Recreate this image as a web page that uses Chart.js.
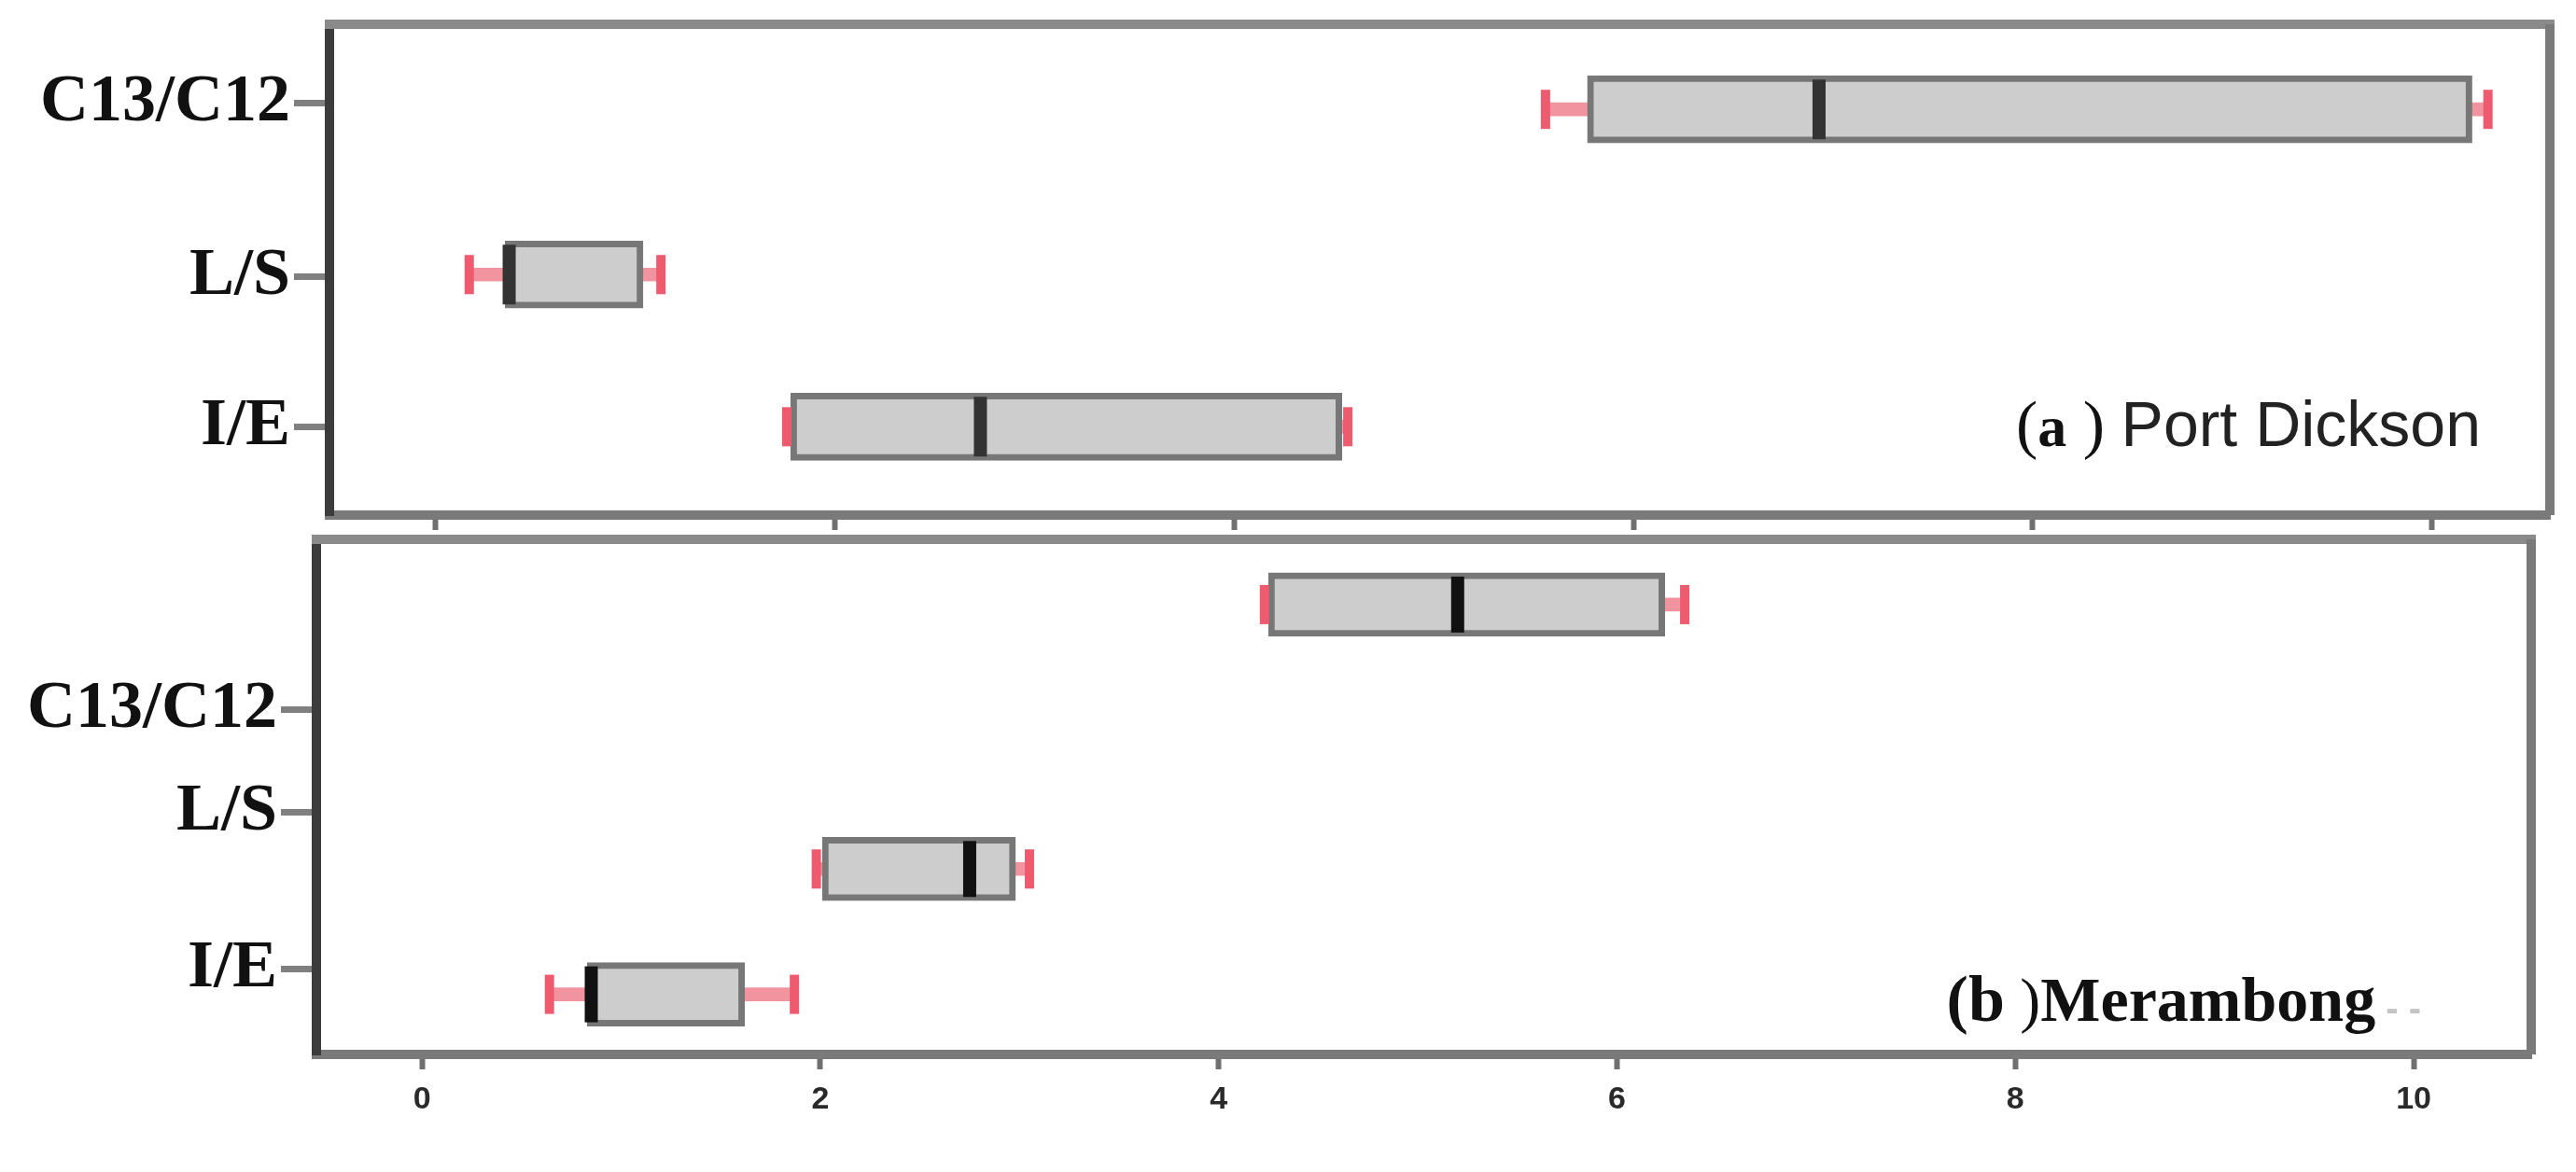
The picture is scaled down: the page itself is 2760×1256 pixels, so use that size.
<!DOCTYPE html>
<html>
<head>
<meta charset="utf-8">
<title>Box plots - Port Dickson / Merambong</title>
<script src="https://cdn.jsdelivr.net/npm/chart.js@4.4.1/dist/chart.umd.min.js"></script>
<style>
    html, body { margin: 0; padding: 0; background: #ffffff; }
    #wrap { position: relative; width: 2760px; height: 1256px; background: #ffffff; }
    .panel { position: absolute; left: 0; width: 2760px; }
    #panel-a { top: 0; height: 570px; }
    #panel-b { top: 570px; height: 686px; }
</style>
</head>
<body>
<div id="wrap">
    <div class="panel" id="panel-a"><canvas id="chart-a" width="2760" height="570"></canvas></div>
    <div class="panel" id="panel-b"><canvas id="chart-b" width="2760" height="686"></canvas></div>
</div>
<script>
// Categorias (de arriba hacia abajo)
const categories = ['C13/C12', 'L/S', 'I/E'];
const xTicks = [0, 2, 4, 6, 8, 10];

// (a) Port Dickson - min, Q1, mediana, Q3, max
const pdMin = [5.56, 0.17, 1.76];
const pdQ1  = [5.77, 0.35, 1.78];
const pdMed = [6.93, 0.37, 2.73];
const pdQ3  = [10.20, 1.04, 4.54];
const pdMax = [10.28, 1.13, 4.57];
const pdRow = [0.52, 1.53, 2.46];
const pdLabelRow = [0.48, 1.54, 2.46];

// (b) Merambong
const mbMin = [4.23, 1.98, 0.64];
const mbQ1  = [4.25, 2.01, 0.83];
const mbMed = [5.20, 2.75, 0.85];
const mbQ3  = [6.24, 2.98, 1.62];
const mbMax = [6.34, 3.05, 1.87];
const mbRow = [0.38, 1.92, 2.65];
const mbLabelRow = [0.99, 1.59, 2.50];

// marco superior y derecho del panel
const frameBox = {
    id: 'frameBox',
    afterDatasetsDraw(chart) {
        const {ctx, chartArea: {left, top, right, bottom}} = chart;
        ctx.save();
        ctx.lineWidth = 10;
        ctx.strokeStyle = '#8a8a8a';
        ctx.beginPath();
        ctx.moveTo(left - 5, top);
        ctx.lineTo(right + 5, top);
        ctx.stroke();
        ctx.strokeStyle = '#7a7a7a';
        ctx.beginPath();
        ctx.moveTo(right, top);
        ctx.lineTo(right, bottom);
        ctx.stroke();
        ctx.restore();
    }
};

// etiqueta del panel: (a) Port Dickson / (b) Merambong
const panelNote = {
    id: 'panelNote',
    afterDraw(chart, args, opts) {
        if (!opts.parts) return;
        const {ctx, chartArea} = chart;
        ctx.save();
        ctx.textBaseline = 'alphabetic';
        ctx.textAlign = 'left';
        let total = 0;
        opts.parts.forEach(p => { ctx.font = p.font; total += ctx.measureText(p.text).width; });
        let x = chartArea.right - opts.endOffset - total;
        const y = chartArea.bottom - opts.baseOffset;
        opts.parts.forEach(p => {
            ctx.font = p.font;
            ctx.fillStyle = p.color || '#111111';
            ctx.fillText(p.text, x, y);
            x += ctx.measureText(p.text).width;
        });
        ctx.restore();
    }
};

function toPoints(rows, vals) {
    return rows.map((r, i) => ({ y: r, x: vals[i] }));
}

function createBoxChart(canvasId, d, cfg) {
    const ctx = document.getElementById(canvasId);
    const whiskers = d.row.map((r, i) => ({ y: r, x: [d.min[i], d.max[i]] }));
    const boxes = d.row.map((r, i) => ({ y: r, x: [d.q1[i], d.q3[i]] }));
    const caps = toPoints(d.row, d.min).concat(toPoints(d.row, d.max));
    const medians = toPoints(d.row, d.med);

    return new Chart(ctx, {
        type: 'bar',
        data: {
            datasets: [
                {
                    type: 'bar',
                    indexAxis: 'y',
                    grouped: false,
                    data: whiskers,
                    backgroundColor: '#f2949f',
                    borderWidth: 0,
                    barThickness: 14,
                    order: 4
                },
                {
                    type: 'bar',
                    indexAxis: 'y',
                    grouped: false,
                    data: boxes,
                    backgroundColor: '#cdcdcd',
                    borderColor: '#777777',
                    borderWidth: 7,
                    borderSkipped: false,
                    barThickness: cfg.boxH,
                    order: 3
                },
                {
                    type: 'scatter',
                    data: caps,
                    pointStyle: 'line',
                    rotation: 90,
                    radius: 21,
                    borderWidth: 10,
                    borderColor: '#ee5a6e',
                    order: 2
                },
                {
                    type: 'scatter',
                    data: medians,
                    pointStyle: 'line',
                    rotation: 90,
                    radius: cfg.boxH / 2 - 4,
                    borderWidth: 14,
                    borderColor: cfg.medColor,
                    order: 1
                }
            ]
        },
        options: {
            responsive: false,
            animation: false,
            devicePixelRatio: 1,
            events: [],
            layout: { autoPadding: false, padding: cfg.padding },
            plugins: {
                legend: { display: false },
                tooltip: { enabled: false },
                panelNote: cfg.note
            },
            scales: {
                x: {
                    type: 'linear',
                    offset: false,
                    min: -0.53,
                    max: 10.59,
                    afterBuildTicks: axis => { axis.ticks = xTicks.map(v => ({ value: v })); },
                    afterFit: axis => {
                        axis.height = cfg.xAxisH;
                        axis.paddingLeft = 0;
                        axis.paddingRight = 0;
                    },
                    grid: {
                        display: true,
                        offset: false,
                        drawOnChartArea: false,
                        drawTicks: true,
                        tickLength: 16,
                        tickWidth: 6,
                        tickColor: '#707070'
                    },
                    border: { display: true, color: '#7a7a7a', width: 10 },
                    ticks: {
                        display: cfg.showXLabels,
                        padding: 12,
                        color: '#2a2a2a',
                        font: { family: 'Liberation Sans', size: 34, weight: 'bold' }
                    }
                },
                y: {
                    type: 'linear',
                    offset: false,
                    reverse: true,
                    min: 0,
                    max: 3,
                    afterBuildTicks: axis => { axis.ticks = cfg.labelRow.map(v => ({ value: v })); },
                    afterFit: axis => {
                        axis.width = cfg.yAxisW;
                        axis.paddingTop = 0;
                        axis.paddingBottom = 0;
                    },
                    grid: {
                        display: true,
                        offset: false,
                        drawOnChartArea: false,
                        drawTicks: true,
                        tickLength: 38,
                        tickWidth: 7,
                        tickColor: '#808080'
                    },
                    border: { display: true, color: '#3c3c3c', width: 10 },
                    ticks: {
                        padding: 4,
                        color: '#111111',
                        font: { family: 'Liberation Serif', size: 72, weight: 'bold' },
                        callback: (value, index) => categories[index]
                    }
                }
            }
        },
        plugins: [frameBox, panelNote]
    });
}

document.addEventListener('DOMContentLoaded', function() {
    createBoxChart('chart-a',
        { row: pdRow, min: pdMin, q1: pdQ1, med: pdMed, q3: pdQ3, max: pdMax },
        {
            labelRow: pdLabelRow,
            boxH: 72,
            medColor: '#333333',
            padding: { top: 26, right: 28, bottom: 0, left: 0 },
            xAxisH: 18,
            yAxisW: 353,
            showXLabels: false,
            note: {
                endOffset: 74,
                baseOffset: 74,
                parts: [
                    { text: '(', font: '70px "Liberation Serif"' },
                    { text: 'a', font: 'bold 62px "Liberation Serif"' },
                    { text: ' ) ', font: '70px "Liberation Serif"' },
                    { text: 'Port Dickson', font: '68px "Liberation Sans"', color: '#222222' }
                ]
            }
        });

    createBoxChart('chart-b',
        { row: mbRow, min: mbMin, q1: mbQ1, med: mbMed, q3: mbQ3, max: mbMax },
        {
            labelRow: mbLabelRow,
            boxH: 68,
            medColor: '#111111',
            padding: { top: 8, right: 48, bottom: 0, left: 0 },
            xAxisH: 126,
            yAxisW: 339,
            showXLabels: true,
            note: {
                endOffset: 118,
                baseOffset: 36,
                parts: [
                    { text: '(b', font: 'bold 70px "Liberation Serif"' },
                    { text: ' )', font: '66px "Liberation Serif"' },
                    { text: 'Merambong', font: 'bold 68px "Liberation Serif"' },
                    { text: ' - -', font: 'bold 40px "Liberation Sans"', color: '#c4c4c4' }
                ]
            }
        });
});
</script>
</body>
</html>
